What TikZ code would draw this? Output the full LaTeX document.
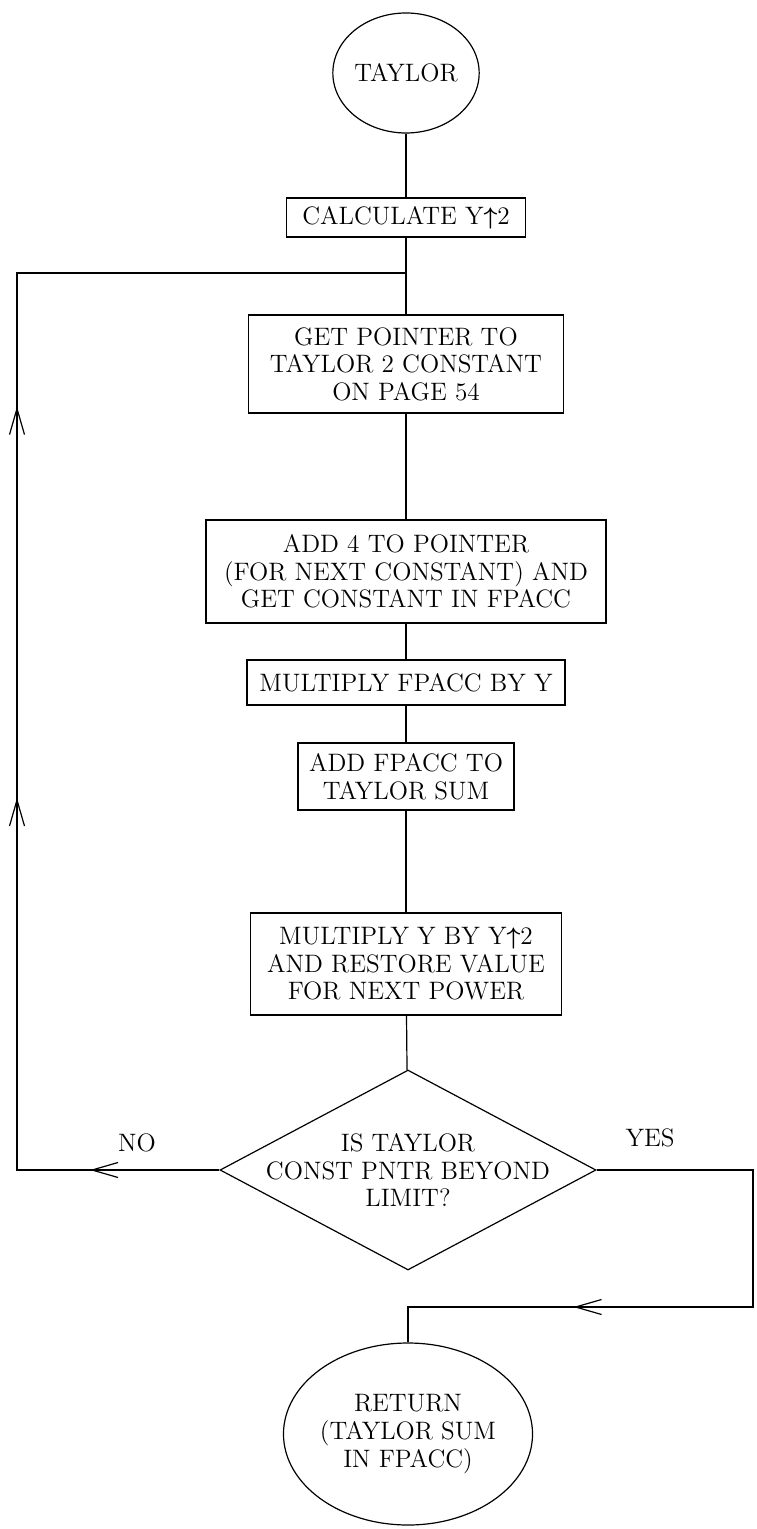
\documentclass[tikz,border=0pt]{standalone}
\usepackage{amsmath}
\usetikzlibrary{arrows.meta,shapes.geometric,decorations.markings}
\newcommand{\yup}{\mbox{\boldmath$\uparrow$}}
\tikzset{barbtip/.tip={Straight Barb[length=13pt,width=7.5pt]}}

\begin{document}
\begin{tikzpicture}[x=0.5pt,y=-0.5pt, line width=0.6pt,
    every node/.style={font=\fontsize{12.6}{13.8}\selectfont, align=center, inner sep=0pt},
    procbox/.style={draw, rectangle},
    terminal/.style={draw, ellipse},
    decision/.style={draw, diamond, aspect=1.88, inner sep=-6pt},
    noloop/.style={postaction={decorate}, decoration={markings,
        mark=at position 0.087 with {\arrow{barbtip}},
        mark=at position 0.386 with {\arrow{barbtip}},
        mark=at position 0.649 with {\arrow{barbtip}}}},
    yesexit/.style={postaction={decorate}, decoration={markings,
        mark=at position 0.702 with {\arrow{barbtip}}}}]
\useasboundingbox (0,0) rectangle (756,1529);

\node[terminal, minimum width=62.5pt, minimum height=60pt] (taylor) at (406,73) {TAYLOR};
\node[procbox, minimum width=119.5pt, minimum height=19.5pt] (calc) at (406,217.5) {CALCULATE Y\yup2};
\node[procbox, minimum width=157.5pt, minimum height=49pt] (getptr) at (406,364) {GET POINTER TO\\TAYLOR 2 CONSTANT\\ON PAGE 54};
\node[procbox, minimum width=200pt, minimum height=51.5pt] (addfour) at (406,571.5) {ADD 4 TO POINTER\\(FOR NEXT CONSTANT) AND\\GET CONSTANT IN FPACC};
\node[procbox, minimum width=159pt, minimum height=22.5pt] (mulacc) at (406,682.5) {MULTIPLY FPACC BY Y};
\node[procbox, minimum width=108pt, minimum height=33.5pt] (addsum) at (406,776.5) {ADD FPACC TO\\TAYLOR SUM};
\node[procbox, minimum width=155.5pt, minimum height=51pt] (mulyy) at (406,964) {MULTIPLY Y BY Y\yup2\\AND RESTORE VALUE\\FOR NEXT POWER};
\node[decision, minimum width=188pt, minimum height=100pt] (test) at (408,1170) {IS TAYLOR\\CONST PNTR BEYOND\\LIMIT?};
\node[terminal, minimum width=109pt, minimum height=91pt] (ret) at (408,1434) {RETURN\\(TAYLOR SUM\\IN FPACC)};
\node (no) at (137,1143) {NO};
\node (yes) at (650,1138) {YES};

\coordinate (noturn) at (17,1170);
\coordinate (loopturn) at (17,273);
\coordinate (loopjoin) at (406,273);
\coordinate (yesturn) at (753,1170);
\coordinate (yesdown) at (753,1307);
\coordinate (retturn) at (408,1307);

\draw (taylor) -- (calc);
\draw (calc) -- (getptr);
\draw (getptr) -- (addfour);
\draw (addfour) -- (mulacc);
\draw (mulacc) -- (addsum);
\draw (addsum) -- (mulyy);
\draw (mulyy) -- (test);
% loop back when the limit is not reached
\draw[noloop] (test.west) -- (noturn) -- (loopturn) -- (loopjoin);
\draw[yesexit] (test.east) -- (yesturn) -- (yesdown) -- (retturn) -- (ret.north);
\end{tikzpicture}
\end{document}
